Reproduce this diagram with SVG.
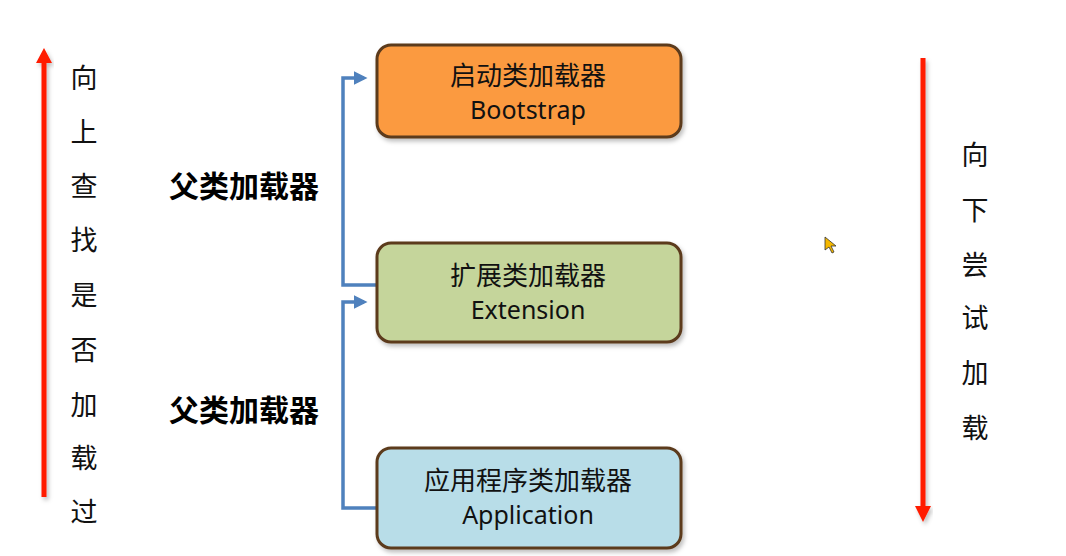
<svg xmlns="http://www.w3.org/2000/svg" width="1066" height="556" viewBox="0 0 1066 556">
<style>
.box{stroke:#5b3a1c;stroke-width:3}
.t{font-family:"Noto Sans","Noto Sans CJK SC",sans-serif;font-size:25px;fill:#111;text-anchor:middle}
.c{font-family:"Noto Sans CJK SC",sans-serif;font-size:26px;fill:#111;text-anchor:middle}
.v{font-family:"Noto Sans CJK SC",sans-serif;font-size:27px;fill:#111;text-anchor:middle}
.lab{font-family:"Noto Sans CJK SC",sans-serif;font-size:30px;font-weight:bold;fill:#000}
.conn{fill:none;stroke:#4f81bd;stroke-width:3.5}
.red{stroke:#ff1a00;stroke-width:5}
</style>
<defs>
<marker id="ab" markerWidth="4" markerHeight="4" refX="3" refY="2" orient="auto" markerUnits="strokeWidth"><path d="M0,0 L4,2 L0,4 z" fill="#4f81bd"/></marker>
<filter id="sh" x="-10%" y="-10%" width="120%" height="130%"><feDropShadow dx="2" dy="3" stdDeviation="2" flood-color="#000" flood-opacity="0.25"/></filter>
</defs>
<rect width="1066" height="556" fill="#fff"/>
<g id="up-arrow" filter="url(#sh)">
<line class="red" x1="44" y1="62" x2="44" y2="497"/>
<polygon points="44,48 36,63 52,63" fill="#ff1a00"/>
</g>
<g id="up-text">
<text class="v" x="84" y="88">向</text>
<text class="v" x="84" y="142">上</text>
<text class="v" x="84" y="196">查</text>
<text class="v" x="84" y="250">找</text>
<text class="v" x="84" y="305">是</text>
<text class="v" x="84" y="360">否</text>
<text class="v" x="84" y="415">加</text>
<text class="v" x="84" y="468">载</text>
<text class="v" x="84" y="522">过</text>
</g>
<g id="down-arrow" filter="url(#sh)">
<line class="red" x1="923" y1="58" x2="923" y2="508"/>
<polygon points="923,522 915,506 931,506" fill="#ff1a00"/>
</g>
<g id="down-text">
<text class="v" x="975" y="165">向</text>
<text class="v" x="975" y="220">下</text>
<text class="v" x="975" y="275">尝</text>
<text class="v" x="975" y="328">试</text>
<text class="v" x="975" y="383">加</text>
<text class="v" x="975" y="438">载</text>
</g>
<g id="connectors">
<polyline class="conn" points="377,285 343,285 343,78 364,78" marker-end="url(#ab)"/>
<polyline class="conn" points="377,508 343,508 343,302 364,302" marker-end="url(#ab)"/>
</g>
<g id="bootstrap">
<rect class="box" x="377" y="45" width="304" height="92" rx="14" fill="#fb9a41" filter="url(#sh)"/>
<text class="c" x="528" y="85">启动类加载器</text>
<text class="t" x="528" y="119">Bootstrap</text>
</g>
<g id="extension">
<rect class="box" x="377" y="243" width="304" height="99" rx="14" fill="#c5d59b" filter="url(#sh)"/>
<text class="c" x="528" y="285">扩展类加载器</text>
<text class="t" x="528" y="319">Extension</text>
</g>
<g id="application">
<rect class="box" x="377" y="448" width="304" height="100" rx="14" fill="#b8dde8" filter="url(#sh)"/>
<text class="c" x="528" y="490">应用程序类加载器</text>
<text class="t" x="528" y="524">Application</text>
</g>
<g id="label1"><text class="lab" x="169" y="197">父类加载器</text></g>
<g id="label2"><text class="lab" x="169" y="421">父类加载器</text></g>
<g id="cursor"><polygon points="825,237 825,250 829,247 832,253 834,252 831,246 836,246" fill="#f5b800" stroke="#333" stroke-width="0.8"/></g>
</svg>
